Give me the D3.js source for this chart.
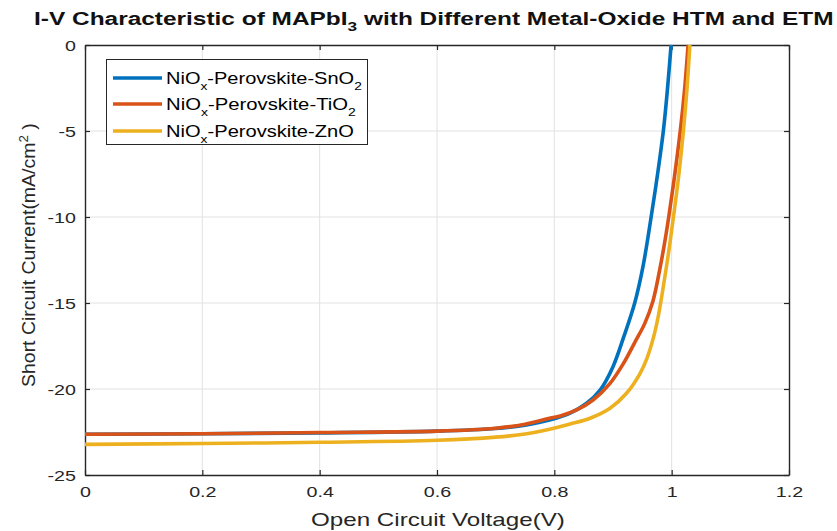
<!DOCTYPE html>
<html>
<head>
<meta charset="utf-8">
<script src="https://cdn.jsdelivr.net/npm/d3@7/dist/d3.min.js"></script>
<style>
  html, body { margin: 0; padding: 0; background: #fff; }
  svg { display: block; font-family: "Liberation Sans", Arial, sans-serif; }
</style>
</head>
<body>
<svg id="chart" width="837" height="531"></svg>
<script>
// I-V curves (voltage in V, current density in mA/cm^2)
const vSnO2 = [0, 0.2, 0.4, 0.6, 0.7, 0.75, 0.79, 0.827, 0.855, 0.878, 0.9, 0.918, 0.937, 0.951, 0.965, 0.976, 0.986, 0.993, 0.999];
const jSnO2 = [-22.63, -22.6, -22.55, -22.45, -22.3, -22.1, -21.82, -21.4, -20.83, -20.06, -18.7, -17.0, -15.0, -12.9, -10.0, -7.5, -4.94, -2.5, 0];

const vTiO2 = [0, 0.2, 0.4, 0.6, 0.7, 0.75, 0.79, 0.81, 0.838, 0.866, 0.895, 0.918, 0.937, 0.954, 0.968, 0.98, 0.988, 0.995, 1.005, 1.015, 1.022, 1.028];
const jTiO2 = [-22.63, -22.6, -22.53, -22.45, -22.28, -22.05, -21.72, -21.57, -21.22, -20.64, -19.67, -18.5, -17.3, -16.2, -14.9, -13.0, -11.5, -10.0, -7.6, -4.9, -2.6, 0];

const vZnO = [0, 0.2, 0.4, 0.6, 0.7, 0.75, 0.79, 0.827, 0.861, 0.895, 0.923, 0.946, 0.958, 0.969, 0.977, 0.986, 0.995, 1.003, 1.012, 1.02, 1.026, 1.031];
const jZnO = [-23.22, -23.17, -23.1, -22.98, -22.8, -22.62, -22.35, -22.03, -21.7, -21.12, -20.25, -19.1, -18.2, -17.0, -15.8, -14.0, -12.0, -10.0, -7.6, -5.0, -2.6, 0];

const seriesNames = ["SnO2", "TiO2", "ZnO"];
const seriesColors = ["#0072BD", "#D95319", "#EDB120"];
const xTicks = [0, 0.2, 0.4, 0.6, 0.8, 1, 1.2];
const yTicks = [0, -5, -10, -15, -20, -25];

const series = [
  { name: seriesNames[0], v: vSnO2, j: jSnO2, color: seriesColors[0] },
  { name: seriesNames[1], v: vTiO2, j: jTiO2, color: seriesColors[1] },
  { name: seriesNames[2], v: vZnO,  j: jZnO,  color: seriesColors[2] }
];

const svg = d3.select("#chart");
const plotLeft = 85, plotRight = 789, plotTop = 45, plotBottom = 475;

const x = d3.scaleLinear().domain([0, 1.2]).range([plotLeft, plotRight]);
const y = d3.scaleLinear().domain([-25, 0]).range([plotBottom, plotTop]);

const textColor = "#262626";
const gridColor = "#e2e2e2";
const stretch = 1.27; // horizontal widening of the label glyphs

// grid
const grid = svg.append("g");
grid.selectAll(".gx").data(xTicks.slice(1, -1)).join("line")
  .attr("x1", d => x(d)).attr("x2", d => x(d))
  .attr("y1", plotTop).attr("y2", plotBottom)
  .attr("stroke", gridColor).attr("stroke-width", 1);
grid.selectAll(".gy").data(yTicks.slice(1, -1)).join("line")
  .attr("y1", d => y(d)).attr("y2", d => y(d))
  .attr("x1", plotLeft).attr("x2", plotRight)
  .attr("stroke", gridColor).attr("stroke-width", 1);

// axes (ticks pointing inward)
const fmt = d => String(d);
const xAxis = svg.append("g").attr("transform", `translate(0,${plotBottom})`)
  .call(d3.axisBottom(x).tickValues(xTicks).tickFormat(fmt).tickSizeInner(-5).tickSizeOuter(0).tickPadding(11));
const yAxis = svg.append("g").attr("transform", `translate(${plotLeft},0)`)
  .call(d3.axisLeft(y).tickValues(yTicks).tickFormat(fmt).tickSizeInner(-5).tickSizeOuter(0).tickPadding(9));
const xTop = svg.append("g").attr("transform", `translate(0,${plotTop})`)
  .call(d3.axisTop(x).tickValues(xTicks).tickFormat("").tickSizeInner(-5).tickSizeOuter(0));
const yRight = svg.append("g").attr("transform", `translate(${plotRight},0)`)
  .call(d3.axisRight(y).tickValues(yTicks).tickFormat("").tickSizeInner(-5).tickSizeOuter(0));

[xAxis, yAxis, xTop, yRight].forEach(g => {
  g.select(".domain").attr("stroke", textColor).attr("stroke-width", 1.4);
  g.selectAll(".tick line").attr("stroke", textColor).attr("stroke-width", 1.2);
  g.selectAll(".tick text").attr("fill", textColor)
    .style("font-family", "'Liberation Sans', Arial, sans-serif").style("font-size", "15.5px");
});
xAxis.selectAll(".tick text")
  .attr("transform", `scale(${stretch},1)`);
yAxis.selectAll(".tick text")
  .attr("dy", "0.36em")
  .attr("x", -9 / stretch)
  .attr("transform", `scale(${stretch},1)`);

// curves
const line = d3.line().x(d => x(d[0])).y(d => y(d[1])).curve(d3.curveCatmullRom.alpha(0.5));
const curves = svg.append("g");
series.forEach(s => {
  curves.append("path")
    .datum(s.v.map((v, i) => [v, s.j[i]]))
    .attr("fill", "none")
    .attr("stroke", s.color)
    .attr("stroke-width", 3.6)
    .attr("stroke-linejoin", "round")
    .attr("d", line);
});

// title
const title = svg.append("text")
  .attr("x", 0).attr("y", 0)
  .attr("font-weight", "bold").attr("font-size", 17).attr("fill", "#111");
title.append("tspan").text("I-V Characteristic of MAPbI");
title.append("tspan").attr("font-size", 12).attr("dy", 6).text("3");
title.append("tspan").attr("dy", -6).text(" with Different Metal-Oxide HTM and ETM");
{
  const w = title.node().getComputedTextLength();
  const target = 800, cx = 434;
  title.attr("transform", `translate(${cx - target / 2},25) scale(${target / w},1.05)`);
}

// axis labels
const xl = svg.append("text")
  .attr("font-size", 17.5).attr("fill", textColor)
  .text("Open Circuit Voltage(V)");
{
  const w = xl.node().getComputedTextLength();
  const target = 254, cx = 438;
  xl.attr("transform", `translate(${cx - target / 2},526) scale(${target / w},1)`);
}

const yl = svg.append("text")
  .attr("font-size", 17.5).attr("fill", textColor);
yl.append("tspan").text("Short Circuit Current(mA/cm");
yl.append("tspan").attr("font-size", 12).attr("dy", -7).text("2");
yl.append("tspan").attr("dy", 7).text(" )");
{
  const w = yl.node().getComputedTextLength();
  const target = 264, cy = 255;
  yl.attr("transform", `translate(35,${cy + target / 2}) rotate(-90) scale(${target / w},1)`);
}

// legend
const lg = svg.append("g");
lg.append("rect")
  .attr("x", 106.5).attr("y", 59.5).attr("width", 261).attr("height", 85)
  .attr("fill", "#fff").attr("stroke", textColor).attr("stroke-width", 1);
const legendRows = [78, 104, 131];
const legendWidths = [196, 190, 188];
series.forEach((s, i) => {
  const ly = legendRows[i];
  lg.append("line")
    .attr("x1", 113).attr("x2", 162).attr("y1", ly).attr("y2", ly)
    .attr("stroke", s.color).attr("stroke-width", 3.6);
  const t = lg.append("text")
    .attr("x", 0).attr("y", 0)
    .attr("font-size", 16).attr("fill", "#000");
  t.append("tspan").text("NiO");
  t.append("tspan").attr("font-size", 11).attr("dy", 6).text("x");
  const ox = s.name.replace(/\d$/, "");
  const sub = s.name.match(/\d$/);
  t.append("tspan").attr("dy", -6).text("-Perovskite-" + ox);
  if (sub) t.append("tspan").attr("font-size", 11).attr("dy", 6).text(sub[0]);
  const w = t.node().getComputedTextLength();
  t.attr("transform", `translate(166,${ly + 5.5}) scale(${legendWidths[i] / w},1)`);
});
</script>
</body>
</html>
